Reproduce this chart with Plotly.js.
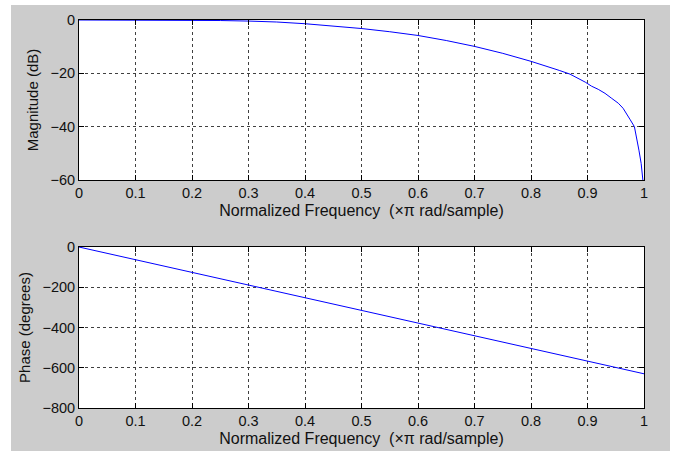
<!DOCTYPE html>
<html>
<head>
<meta charset="utf-8">
<script src="https://cdn.plot.ly/plotly-3.0.1.min.js"></script>
<style>
  html, body { margin: 0; padding: 0; background: #ffffff; }
  #chart { position: absolute; left: 11px; top: 5px; width: 659px; height: 446px; }
</style>
</head>
<body>
<div id="chart"></div>
<script>
// Normalized frequency (x pi rad/sample) and magnitude (dB)
const magFreq = [0, 0.1, 0.2, 0.25, 0.3, 0.35, 0.4, 0.45, 0.5, 0.55, 0.6, 0.65, 0.7, 0.75, 0.8, 0.85, 0.869, 0.896, 0.907, 0.919, 0.931, 0.943, 0.9545, 0.963, 0.969, 0.975, 0.983, 0.987, 0.991, 0.995, 0.998];
const magDb   = [0, -0.02, -0.1, -0.2, -0.4, -0.75, -1.4, -2.2, -3.2, -4.4, -5.8, -7.7, -9.9, -12.5, -15.5, -18.9, -20.3, -23.3, -24.8, -26.0, -27.5, -29.4, -31.2, -33.1, -35.0, -37.2, -40.0, -43.8, -48.8, -53.8, -60];

// Phase (degrees)
const phaseFreq = [0, 0.1, 0.2, 0.3, 0.4, 0.5, 0.6, 0.7, 0.8, 0.9, 1.0];
const phaseDeg  = [0, -63, -126, -189, -252, -315, -378, -441, -504, -567, -630];

const xTicks = [0, 0.1, 0.2, 0.3, 0.4, 0.5, 0.6, 0.7, 0.8, 0.9, 1];
const xTickText = ['0', '0.1', '0.2', '0.3', '0.4', '0.5', '0.6', '0.7', '0.8', '0.9', '1'];
const magTicks = [-60, -40, -20, 0];
const phaseTicks = [-800, -600, -400, -200, 0];
const xLabel = 'Normalized Frequency  (\u00d7\u03c0 rad/sample)';

const tickFont = { family: 'Liberation Sans, Arial, sans-serif', size: 14.5, color: '#111111' };
const xTitleFont = { family: 'Liberation Sans, Arial, sans-serif', size: 16, color: '#111111' };
const yTitleFont = { family: 'Liberation Sans, Arial, sans-serif', size: 15, color: '#111111' };

const traces = [
  { x: magFreq, y: magDb, type: 'scatter', mode: 'lines', line: { color: '#0000ff', width: 1 }, xaxis: 'x', yaxis: 'y', hoverinfo: 'skip' },
  { x: phaseFreq, y: phaseDeg, type: 'scatter', mode: 'lines', line: { color: '#0000ff', width: 1 }, xaxis: 'x2', yaxis: 'y2', hoverinfo: 'skip' }
];

function xAxis(anchor) {
  return {
    anchor: anchor, domain: [0, 1], range: [0, 1],
    tickvals: xTicks, ticktext: xTickText,
    showline: true, linecolor: '#000000', linewidth: 1, mirror: 'ticks',
    ticks: 'inside', ticklen: 5, tickcolor: '#000000',
    showgrid: true, gridcolor: '#404040', griddash: '3px,3px', gridwidth: 1,
    zeroline: false, tickfont: tickFont,
    title: { text: xLabel, font: xTitleFont, standoff: 4 }
  };
}
function yAxis(anchor, dom, rng, tv, label) {
  return {
    anchor: anchor, domain: dom, range: rng, tickvals: tv,
    showline: true, linecolor: '#000000', linewidth: 1, mirror: 'ticks',
    ticks: 'inside', ticklen: 5, tickcolor: '#000000',
    showgrid: true, gridcolor: '#404040', griddash: '3px,3px', gridwidth: 1,
    zeroline: false, tickfont: tickFont,
    title: { text: label, font: yTitleFont, standoff: 8 }
  };
}

const layout = {
  width: 659, height: 446,
  paper_bgcolor: '#cccccc', plot_bgcolor: '#ffffff',
  margin: { l: 68, r: 26, t: 15, b: 43 },
  showlegend: false,
  font: tickFont,
  xaxis: xAxis('y'),
  yaxis: yAxis('x', [0.5876, 1], [-60, 0], magTicks, 'Magnitude (dB)'),
  xaxis2: xAxis('y2'),
  yaxis2: yAxis('x2', [0, 0.4149], [-800, 0], phaseTicks, 'Phase (degrees)')
};

Plotly.newPlot('chart', traces, layout, { displayModeBar: false, staticPlot: true });
</script>
</body>
</html>
